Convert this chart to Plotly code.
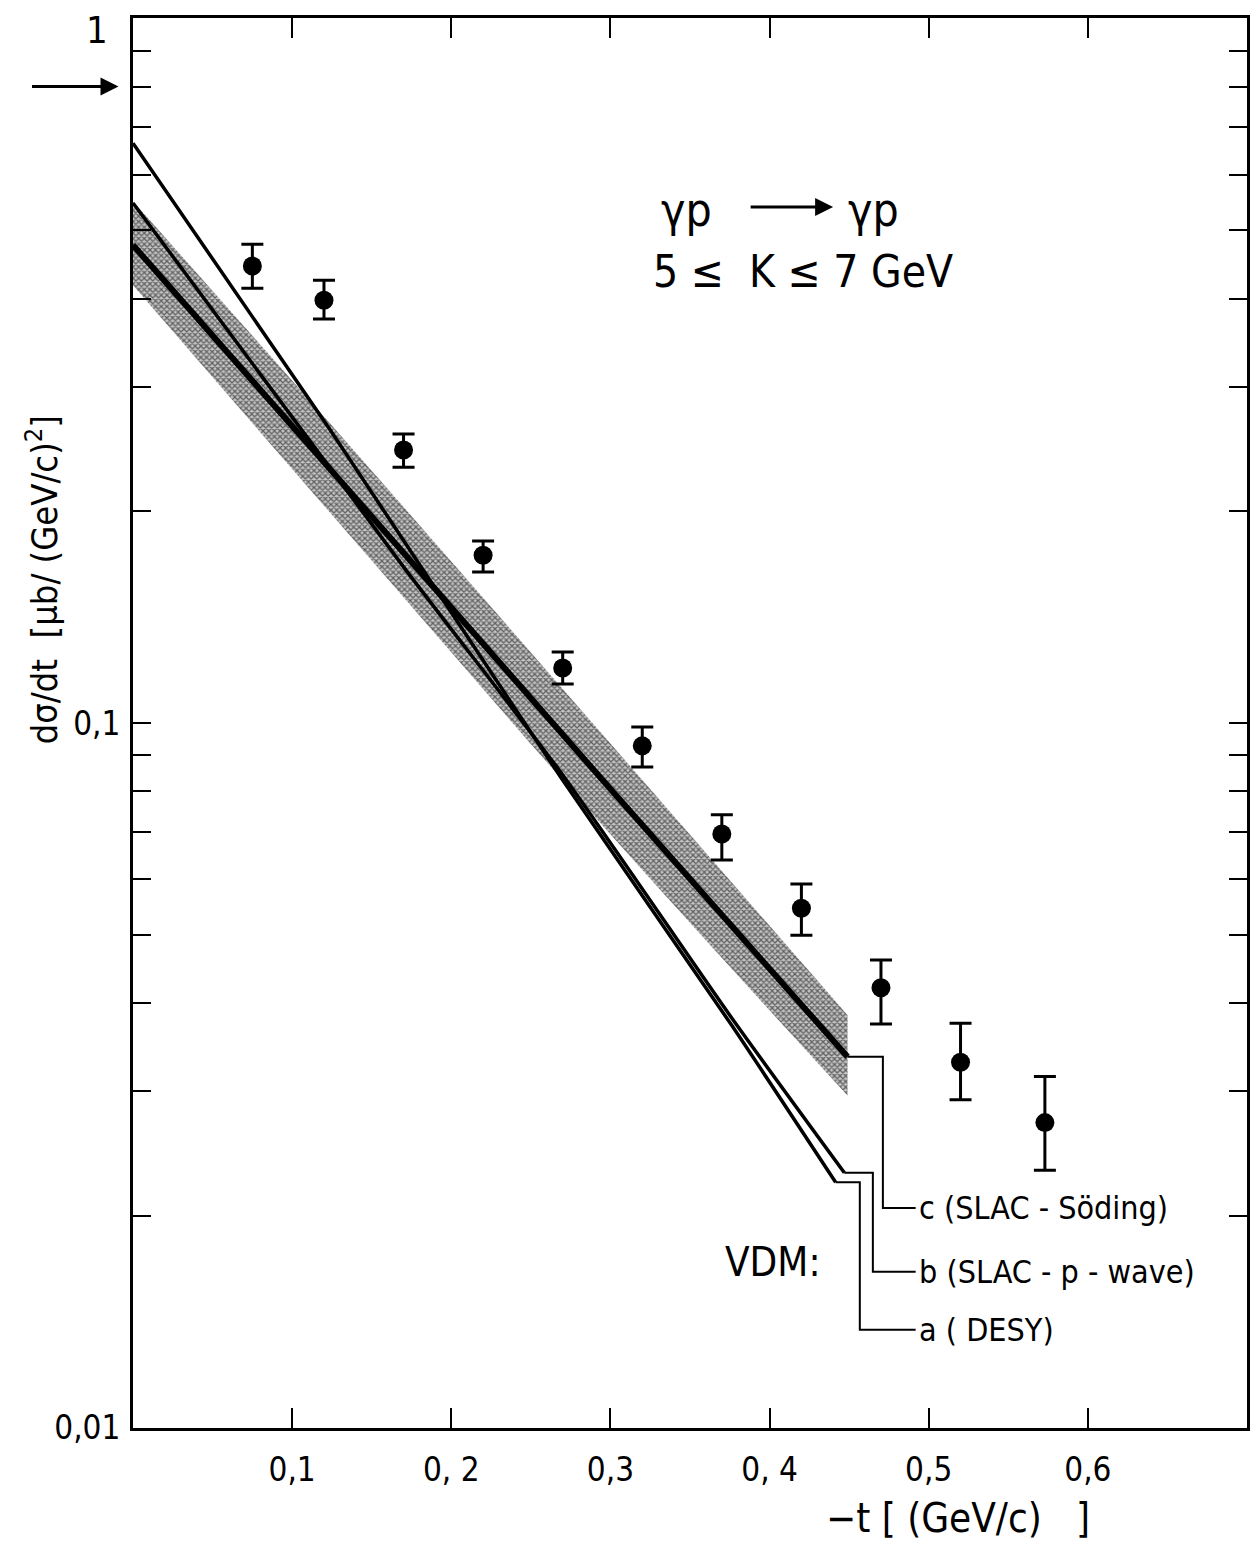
import numpy as np
import plotly.graph_objects as go

# ---------------- data ----------------
t_data = [0.075, 0.12, 0.17, 0.22, 0.27, 0.32, 0.37, 0.42, 0.47, 0.52, 0.573]
xs_data = [0.445, 0.398, 0.244, 0.173, 0.1197, 0.0928, 0.0696, 0.0546, 0.0421, 0.0330, 0.0271]
xs_top = [0.478, 0.425, 0.257, 0.1812, 0.1261, 0.0987, 0.0741, 0.0591, 0.0461, 0.0375, 0.0315]
xs_bot = [0.414, 0.3742, 0.2307, 0.1638, 0.1136, 0.0866, 0.0639, 0.0500, 0.0374, 0.0292, 0.0232]

# curve c (SLAC-Soeding) with its error band
t_c = [0.0, 0.15, 0.30, 0.449]
c_mid = [0.4766, 0.1964, 0.0806, 0.0336]
c_up = [0.550, 0.2280, 0.0935, 0.0385]
c_lo = [0.418, 0.1700, 0.0695, 0.0296]

# curve b (SLAC-p-wave)
t_b = [0.0, 0.1715, 0.269, 0.376, 0.447]
b_val = [0.547, 0.1648, 0.0850, 0.0382, 0.0230]

# curve a (DESY)
t_a = [0.0, 0.1232, 0.269, 0.376, 0.4415]
a_val = [0.665, 0.2620, 0.0836, 0.0373, 0.0223]

# labels / leader lines
lab_names = ["c (SLAC - Söding)", "b (SLAC - p - wave)", "a ( DESY)"]
lab_y = [0.0205, 0.01665, 0.01377]
lab_elbow_x = [0.4712, 0.4649, 0.4567]
lab_x = 0.4918

x_ticks = [0.1, 0.2, 0.3, 0.4, 0.5, 0.6]
x_ticktext = ["0,1", "0, 2", "0,3", "0, 4", "0,5", "0,6"]
y_major = [0.01, 0.1, 1.0]
y_major_text = ["0,01", "0,1", ""]
y_top_label = "1"
y_minor = [m * d for d in (0.01, 0.1) for m in range(2, 10)]

arrow_y = 0.8

FONT = "Liberation Sans Narrow, DejaVu Sans Condensed, Roboto Condensed, Arial Narrow, DejaVu Sans, sans-serif"

fig = go.Figure()

# band
fig.add_trace(go.Scatter(x=t_c, y=c_lo, mode="lines", line=dict(width=0, color="rgba(0,0,0,0)", shape="spline"),
                         showlegend=False, hoverinfo="skip"))
fig.add_trace(go.Scatter(x=t_c, y=c_up, mode="lines", line=dict(width=0, color="rgba(0,0,0,0)", shape="spline"),
                         fill="tonexty", fillcolor="#777777",
                         fillpattern=dict(shape="x", fgcolor="#000000", bgcolor="#c4c4c4", size=4, solidity=0.55),
                         showlegend=False, hoverinfo="skip"))
# central line c
fig.add_trace(go.Scatter(x=t_c, y=c_mid, mode="lines", line=dict(color="black", width=6, shape="spline"),
                         showlegend=False))
# curves a, b
fig.add_trace(go.Scatter(x=t_b, y=b_val, mode="lines", line=dict(color="black", width=3.5, shape="spline", smoothing=0.6),
                         showlegend=False))
fig.add_trace(go.Scatter(x=t_a, y=a_val, mode="lines", line=dict(color="black", width=3.5, shape="spline", smoothing=0.6),
                         showlegend=False))

# leader lines from curve ends to labels
ends = [(t_c[-1], c_mid[-1]), (t_b[-1], b_val[-1]), (t_a[-1], a_val[-1])]
for (ex, ey), elx, ly in zip(ends, lab_elbow_x, lab_y):
    fig.add_trace(go.Scatter(x=[ex, elx, elx, lab_x], y=[ey, ey, ly, ly], mode="lines",
                             line=dict(color="black", width=2), showlegend=False))

# data points
plus = [t - v for t, v in zip(xs_top, xs_data)]
minus = [v - b for v, b in zip(xs_data, xs_bot)]
fig.add_trace(go.Scatter(x=t_data, y=xs_data, mode="markers",
                         marker=dict(color="black", size=19),
                         error_y=dict(type="data", symmetric=False, array=plus, arrayminus=minus,
                                      color="black", thickness=3, width=11),
                         showlegend=False))

ann = []
for name, ly in zip(lab_names, lab_y):
    ann.append(dict(x=lab_x + 0.001, y=np.log10(ly), xref="x", yref="y", text=name,
                    showarrow=False, xanchor="left", yanchor="middle",
                    font=dict(size=32, family=FONT, color="black")))
ann.append(dict(x=0.5748, y=0.1177, xref="paper", yref="paper", text="VDM:", showarrow=False,
                xanchor="center", yanchor="middle",
                font=dict(size=40, family=FONT, color="black")))
# reaction text
ann.append(dict(x=0.4965, y=0.8638, xref="paper", yref="paper", text="γp", showarrow=False,
                xanchor="center", yanchor="middle",
                font=dict(size=46, family=FONT, color="black")))
ann.append(dict(x=0.6643, y=0.8638, xref="paper", yref="paper", text="γp", showarrow=False,
                xanchor="center", yanchor="middle",
                font=dict(size=46, family=FONT, color="black")))
ann.append(dict(x=0.6285, y=0.8660, xref="paper", yref="paper", ax=-84, ay=0, text="",
                showarrow=True, arrowhead=2, arrowsize=1.2, arrowwidth=3, arrowcolor="black"))
ann.append(dict(x=0.6016, y=0.8199, xref="paper", yref="paper", text="5 ≤  K ≤ 7 GeV", showarrow=False,
                xanchor="center", yanchor="middle",
                font=dict(size=44, family=FONT, color="black")))
# arrow at the left
ann.append(dict(x=-0.013, y=np.log10(arrow_y), xref="paper", yref="y", ax=-88, ay=0, text="",
                showarrow=True, arrowhead=2, arrowsize=1.2, arrowwidth=3, arrowcolor="black"))
# top y tick label
ann.append(dict(x=-0.021, y=1.0085, xref="paper", yref="paper", text=y_top_label, showarrow=False,
                xanchor="right", yanchor="top",
                font=dict(size=38, family=FONT, color="black")))
# axis titles
ann.append(dict(x=-0.0815, y=0.6014, xref="paper", yref="paper", textangle=-90,
                xanchor="center", yanchor="middle",
                text="dσ/dt  [μb/ (GeV/c)<sup>2</sup>]", showarrow=False,
                font=dict(size=36, family=FONT, color="black")))
ann.append(dict(x=0.7404, y=-0.0638, xref="paper", yref="paper",
                xanchor="center", yanchor="middle",
                text="−t [ (GeV/c)   ]", showarrow=False,
                font=dict(size=40, family=FONT, color="black")))

fig.update_layout(
    width=1254, height=1543,
    margin=dict(l=133, r=4, t=18, b=115),
    paper_bgcolor="white", plot_bgcolor="white",
    annotations=ann,
    showlegend=False,
    shapes=[dict(type="line", xref="paper", yref="y", x0=1 - 38 / 1117, x1=1.0,
                 y0=np.log10(0.1), y1=np.log10(0.1), line=dict(color="black", width=2))],
)
fig.update_xaxes(range=[0, 0.7], showgrid=False, zeroline=False,
                 showline=True, linecolor="black", linewidth=3, mirror="ticks",
                 tickmode="array", tickvals=x_ticks, ticktext=x_ticktext,
                 ticks="inside", ticklen=20, tickwidth=2, tickcolor="black",
                 ticklabelstandoff=10,
                 tickfont=dict(size=33, family=FONT, color="black"))
fig.update_yaxes(type="log", range=[-2.0004, 0.0004], showgrid=False, zeroline=False,
                 showline=True, linecolor="black", linewidth=3, mirror="ticks",
                 tickmode="array", tickvals=y_major + y_minor,
                 ticktext=y_major_text + [""] * len(y_minor),
                 ticks="inside", ticklen=18, tickwidth=2, tickcolor="black",
                 ticklabelstandoff=3,
                 tickfont=dict(size=33, family=FONT, color="black"))

fig.write_html("out.html")
